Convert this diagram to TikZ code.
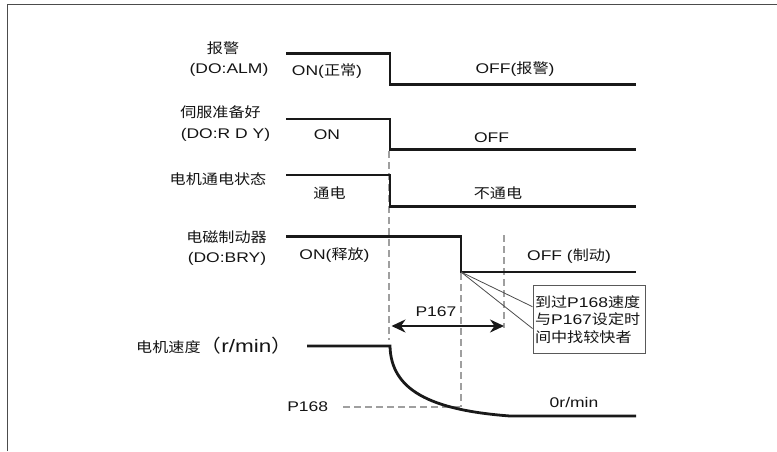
\documentclass[tikz,border=0pt]{standalone}
\usepackage{fontspec}
\setmainfont[FakeStretch=1.25]{Liberation Sans}
\newfontfamily\cjk[FakeStretch=1.15]{Noto Sans CJK SC}
\newcommand\zh[1]{{\cjk #1}}
\usetikzlibrary{arrows.meta}
\begin{document}
\begin{tikzpicture}[x=1pt,y=-1pt,
  font=\fontsize{14}{16}\selectfont,
  sig/.style={line width=2.8pt, black!90, line join=miter},
  guide/.style={gray!75, line width=1.2pt, dash pattern=on 7pt off 4pt},
  lbl/.style={inner sep=0pt, text=black!92},
  callout/.style={gray!60!black, line width=0.8pt},
  dblarrow/.style={line width=2.6pt, black!90, {Stealth[length=14pt,width=13pt]}-{Stealth[length=14pt,width=13pt]}}]
\useasboundingbox (0,0) rectangle (777,451);
% frame
\draw[gray!60!black, line width=1.8pt] (7.5,451) -- (7.5,4.5) -- (777,4.5);

% named points
\coordinate (brk) at (461,272);
\coordinate (arrL) at (391.5,326);
\coordinate (arrR) at (504,326);

% dashed guides
\draw[guide] (389,151) -- (389,340);
\draw[guide] (461,273) -- (461,407);
\draw[guide] (504,235) -- (504,328);
\draw[guide] (343,407) -- (461,407);

% signals
\draw[sig] (286,53.3) -- (390,53.3) -- (390,84.7) -- (636,84.7);
\draw[sig] (286,119) -- (390,119) -- (390,149.7) -- (636,149.7);
\draw[sig] (286,175) -- (390,175) -- (390,206.3) -- (636,206.3);
\draw[sig] (286,236.7) -- (461,236.7) -- (brk) -- (636,272);
\draw[sig] (307,346) -- (390,346) .. controls (391,390) and (430,410) .. (510,416) -- (636,416);

% P167 arrow
\draw[dblarrow] (arrL) -- (arrR);

% labels
\node[lbl] (t1a) at (223,47.7) {\zh{报警}};
\node[lbl] (t1b) at (229,70) {(DO:ALM)};
\node[lbl] (t1c) at (327,71) {ON(\zh{正常})};
\node[lbl] (t1d) at (515,69.3) {OFF(\zh{报警})};

\node[lbl] (t2a) at (220.5,111.7) {\zh{伺服准备好}};
\node[lbl] (t2b) at (225.5,135) {(DO:R D Y)};
\node[lbl] (t2c) at (327,135) {ON};
\node[lbl] (t2d) at (491.6,137.7) {OFF};

\node[lbl] (t3a) at (218,179.3) {\zh{电机通电状态}};
\node[lbl] (t3c) at (329.5,193.3) {\zh{通电}};
\node[lbl] (t3d) at (498,192.7) {\zh{不通电}};

\node[lbl] (t4a) at (226.5,236.7) {\zh{电磁制动器}};
\node[lbl] (t4b) at (227,259.3) {(DO:BRY)};
\node[lbl] (t4c) at (334.5,255) {ON(\zh{释放})};
\node[lbl] (t4d) at (569,256) {OFF (\zh{制动})};

\node[lbl, anchor=west] (spd) at (136,346) {\zh{电机速度}{\fontsize{18}{18}\selectfont\zh{（}r/min\zh{）}}};
\node[lbl] (p167) at (436,311.7) {P167};
\node[lbl] (p168) at (307.7,406.7) {P168};
\node[lbl] (zero) at (574,402.7) {0r/min};

% note box
\node[draw=gray!70!black, line width=1pt, inner xsep=2pt, inner ysep=0pt,
      text width=108pt, minimum height=67.6pt, align=left, text=black!92,
      font=\fontsize{14}{17.5}\selectfont] (box) at (589,319.5)
  {\zh{到过}P168\zh{速度}\\\zh{与}P167\zh{设定时}\\\zh{间中找较快者}};

\draw[callout] (brk) -- ([yshift=-21.5pt]box.north west);
\draw[callout] (brk) -- ([yshift=-43.3pt]box.north west);
\end{tikzpicture}
\end{document}
